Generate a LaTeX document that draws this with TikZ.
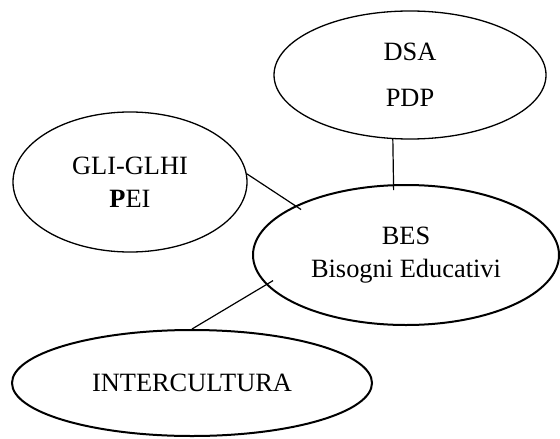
\documentclass[tikz,border=0pt]{standalone}
\usepackage{fontspec}
\setmainfont{Liberation Serif}
\usetikzlibrary{shapes.geometric}

\begin{document}
\begin{tikzpicture}[x=0.5pt,y=-0.5pt,
    bubble/.style={draw,ellipse,align=center,inner sep=0pt,line width=0.65pt,
      font=\fontsize{13.2}{16.5}\selectfont},
    link/.style={line width=0.6pt}]
    \useasboundingbox (0,0) rectangle (560,438);
    \node [bubble,minimum width=136pt,minimum height=64pt] (DSA) at (410,75) {DSA\\[6.5pt]PDP};
    \node [bubble,minimum width=117pt,minimum height=70pt] (GLI) at (130,182) {GLI-GLHI\\\textbf{P}EI};
    \node [bubble,line width=1pt,minimum width=153pt,minimum height=70pt] (BES) at (406,255) {BES\\Bisogni Educativi};
    \node [bubble,line width=1pt,minimum width=180pt,minimum height=53pt] (INTER) at (192,383) {INTERCULTURA};
    \draw [link,shorten >=-3pt] (DSA.255) -- (BES.100);
    \draw [link,shorten >=-3.5pt] (GLI.4) -- (BES.156);
    \draw [link,shorten <=-4pt] (BES.192) -- (INTER.north);
  \end{tikzpicture}
\end{document}
